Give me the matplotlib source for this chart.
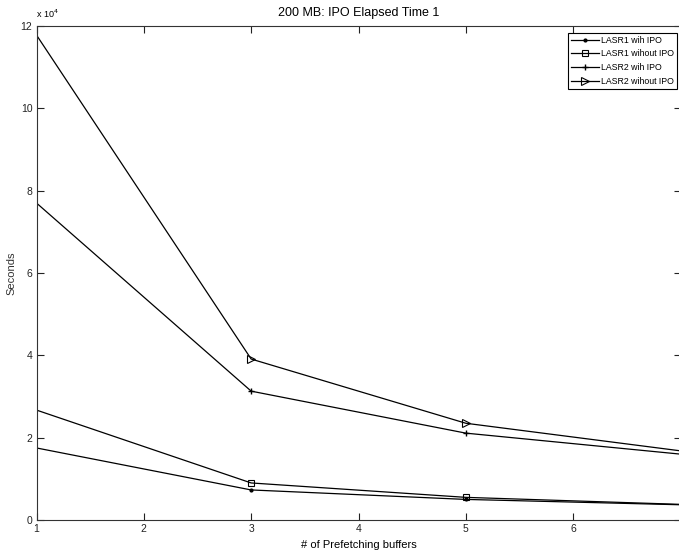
import matplotlib
matplotlib.use("Agg")
import matplotlib.pyplot as plt
from matplotlib.ticker import FuncFormatter

plt.rcParams['font.family'] = ['Liberation Sans', 'DejaVu Sans']

# Data (seconds)
buffers = [1, 3, 5, 7]
lasr1_with_ipo = [17500, 7300, 5000, 3700]
lasr1_without_ipo = [26700, 9000, 5500, 3800]
lasr2_with_ipo = [77000, 31300, 21100, 16000]
lasr2_without_ipo = [117800, 39100, 23500, 16800]

series_labels = ['LASR1 wih IPO', 'LASR1 wihout IPO', 'LASR2 wih IPO', 'LASR2 wihout IPO']
xticks = [1, 2, 3, 4, 5, 6, 7]
xticklabels = ['1', '2', '3', '4', '5', '6', '']
yticks = [0, 20000, 40000, 60000, 80000, 100000, 120000]

W, H = 679, 556
fig = plt.figure(figsize=(W / 100, H / 100), dpi=100)
left, right, top, bottom = 36.5, 680.5, 26, 520
ax = fig.add_axes([left / W, 1 - bottom / H, (right - left) / W, (bottom - top) / H])

lw = 0.9
mk = dict(markevery=[1, 2], color='black', lw=lw)
ax.plot(buffers, lasr1_with_ipo, marker='.', markersize=4, label=series_labels[0], **mk)
ax.plot(buffers, lasr1_without_ipo, marker='s', markersize=5, markerfacecolor='none',
        markeredgewidth=0.8, label=series_labels[1], **mk)
ax.plot(buffers, lasr2_with_ipo, marker='+', markersize=5, markeredgewidth=1.0,
        label=series_labels[2], **mk)
ax.plot(buffers, lasr2_without_ipo, marker='>', markersize=6, markerfacecolor='none',
        markeredgewidth=0.8, label=series_labels[3], **mk)

ax.set_xlim(1, 7)
ax.set_ylim(0, 120000)
ax.set_xticks(xticks)
ax.set_xticklabels(xticklabels)
ax.set_yticks(yticks)
ax.yaxis.set_major_formatter(FuncFormatter(lambda v, p: f"{v / 1e4:g}"))
ax.tick_params(direction='in', length=5, width=0.8, top=True, right=True,
               labelsize=7.5, colors='#222222', pad=3)
for s in ax.spines.values():
    s.set_linewidth(0.8)
    s.set_color('#333333')

ax.set_title('200 MB: IPO Elapsed Time 1', fontsize=9, pad=7)
ax.set_xlabel('# of Prefetching buffers', fontsize=8, labelpad=4)
ax.set_ylabel('Seconds', fontsize=8, color='#333333')
ax.yaxis.set_label_coords((16 - left) / (right - left), 0.5)
fig.text(left / W, 1 - 14 / H, r'x 10$^4$', fontsize=6.5, ha='left', va='center')

leg = ax.legend(loc='upper right', bbox_to_anchor=(677 / W, 1 - 33 / H),
                bbox_transform=fig.transFigure, fontsize=6.3, frameon=True,
                fancybox=False, edgecolor='black', framealpha=1,
                handlelength=3.2, handletextpad=0.3, labelspacing=0.55,
                borderpad=0.3, borderaxespad=0)
leg.get_frame().set_linewidth(0.8)

fig.savefig('out.png', dpi=100)
